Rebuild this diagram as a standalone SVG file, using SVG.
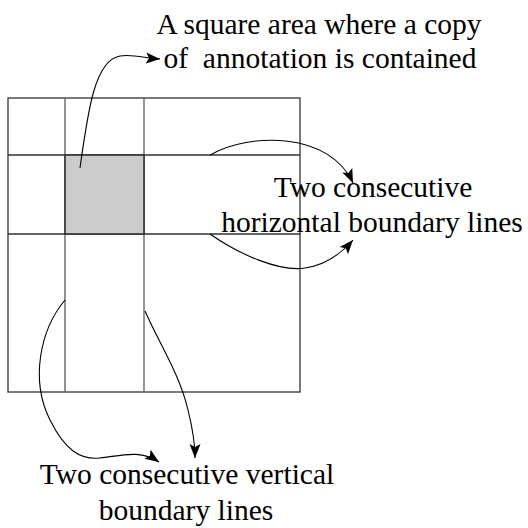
<svg xmlns="http://www.w3.org/2000/svg" width="528" height="528" viewBox="0 0 528 528">
<style>
.lbl{font-family:'Liberation Serif','Times New Roman',serif;font-size:29.5px;fill:#000;text-anchor:middle}
.grid{stroke:#333;stroke-width:1.3;fill:none}
.vgrid{stroke:#666;stroke-width:1.4;fill:none}
.conn{stroke:#000;stroke-width:1.1;fill:none;marker-end:url(#ah)}
</style>
<defs>
<marker id="ah" markerUnits="userSpaceOnUse" markerWidth="16" markerHeight="12" refX="14" refY="6" orient="auto">
<path d="M0,0.5 L14,6 L0,11.5 L3,6 Z" fill="#000"/>
</marker>
</defs>
<rect width="528" height="528" fill="#fff"/>
<g id="grid">
<rect x="8" y="98" width="292" height="294" class="grid"/>
<line x1="65" y1="98" x2="65" y2="392" class="vgrid"/>
<line x1="144" y1="98" x2="144" y2="392" class="vgrid"/>
<line x1="8" y1="155" x2="300" y2="155" class="grid"/>
<line x1="8" y1="234" x2="300" y2="234" class="grid"/>
</g>
<g id="square">
<rect x="65" y="155" width="79" height="79" fill="#cccccc" stroke="#333" stroke-width="1.6"/>
</g>
<g id="connectors">
<path class="conn" d="M80,168 C88,110 95,60 120,56 C132,54 145,58 160,59"/>
<path class="conn" d="M210,155 C250,132 330,132 353,183"/>
<path class="conn" d="M210,234 C240,255 280,272 305,268 C325,265 340,255 353,240"/>
<path class="conn" d="M65,300 C40,330 30,380 50,420 C65,450 80,460 100,458 C120,456 140,449 159,462"/>
<path class="conn" d="M145,311 C160,345 180,375 188,410 C193,430 195,445 195,458"/>
</g>
<g id="label-top">
<text class="lbl" x="319" y="34">A square area where a copy</text>
<text class="lbl" x="320" y="68">of&#160; annotation is contained</text>
</g>
<g id="label-right">
<text class="lbl" x="373" y="197">Two consecutive</text>
<text class="lbl" x="372" y="232">horizontal boundary lines</text>
</g>
<g id="label-bottom">
<text class="lbl" x="187" y="484">Two consecutive vertical</text>
<text class="lbl" x="186" y="520">boundary lines</text>
</g>
</svg>
